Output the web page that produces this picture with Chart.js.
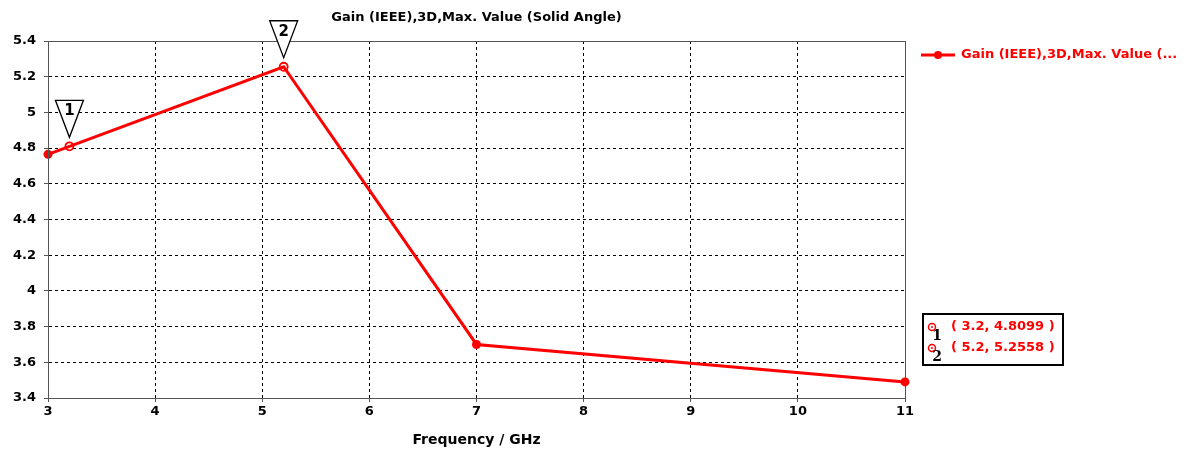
<!DOCTYPE html>
<html>
<head>
<meta charset="utf-8">
<script src="https://cdn.jsdelivr.net/npm/chart.js@4/dist/chart.umd.min.js"></script>
<style>
  html, body { margin: 0; padding: 0; background: #fff; }
  #wrap { width: 1184px; height: 449px; }
</style>
</head>
<body>
<div id="wrap"><canvas id="chartGain"></canvas></div>
<script>
// datos
const titulo = 'Gain (IEEE),3D,Max. Value (Solid Angle)';
const leyenda = 'Gain (IEEE),3D,Max. Value (...';
const frecuencias = [3, 5.2, 7, 11];
const ganancia = [4.765, 5.2558, 3.70, 3.49];
const marcadoresX = [3.2, 5.2];
const marcadoresY = [4.8099, 5.2558];
const marcadoresTxt = ['( 3.2, 4.8099 )', '( 5.2, 5.2558 )'];
const ticksX = [3, 4, 5, 6, 7, 8, 9, 10, 11];

const ROJO = '#ff0000';
const FUENTE = '"DejaVu Sans", Verdana, sans-serif';

// plugin para título, caja del área, leyenda y marcadores
const extras = {
    id: 'extras',
    afterDraw(chart) {
        const { ctx, chartArea: a, scales } = chart;
        ctx.save();

        // borde superior/derecho del área
        ctx.strokeStyle = '#555';
        ctx.lineWidth = 1;
        ctx.strokeRect(a.left + 0.5, a.top + 0.5, a.right - a.left, a.bottom - a.top);

        // título
        ctx.fillStyle = '#000';
        ctx.font = 'bold 13px ' + FUENTE;
        ctx.textAlign = 'center';
        ctx.textBaseline = 'middle';
        ctx.fillText(titulo, (a.left + a.right) / 2, 18);

        // leyenda
        const ly = 55;
        ctx.strokeStyle = ROJO;
        ctx.lineWidth = 3;
        ctx.beginPath();
        ctx.moveTo(921, ly);
        ctx.lineTo(955, ly);
        ctx.stroke();
        ctx.fillStyle = ROJO;
        ctx.beginPath();
        ctx.arc(938, ly, 4, 0, Math.PI * 2);
        ctx.fill();
        ctx.font = 'bold 13px ' + FUENTE;
        ctx.textAlign = 'left';
        ctx.fillText(leyenda, 961, ly);

        // triángulos de marcadores
        marcadoresX.forEach((x, i) => {
            const px = scales.x.getPixelForValue(x);
            const py = scales.y.getPixelForValue(marcadoresY[i]);
            const tip = py - 9, top = tip - 37;
            ctx.fillStyle = '#fff';
            ctx.strokeStyle = '#000';
            ctx.lineWidth = 1.3;
            ctx.beginPath();
            ctx.moveTo(px - 14, top);
            ctx.lineTo(px + 14, top);
            ctx.lineTo(px, tip);
            ctx.closePath();
            ctx.fill();
            ctx.stroke();
            ctx.fillStyle = '#000';
            ctx.font = 'bold 15px ' + FUENTE;
            ctx.textAlign = 'center';
            ctx.fillText(String(i + 1), px, top + 11);
        });

        // caja de valores de marcadores
        ctx.strokeStyle = '#000';
        ctx.lineWidth = 2;
        ctx.fillStyle = '#fff';
        ctx.fillRect(923, 314, 140, 51);
        ctx.strokeRect(923, 314, 140, 51);
        marcadoresTxt.forEach((t, i) => {
            const y = 327 + i * 21;
            ctx.strokeStyle = ROJO;
            ctx.lineWidth = 1.5;
            ctx.beginPath();
            ctx.arc(932, y, 3.5, 0, Math.PI * 2);
            ctx.stroke();
            ctx.fillStyle = ROJO;
            ctx.beginPath();
            ctx.arc(932, y, 1, 0, Math.PI * 2);
            ctx.fill();
            ctx.fillStyle = '#000';
            ctx.font = 'bold 14px "DejaVu Serif", serif';
            ctx.textAlign = 'center';
            ctx.fillText(String(i + 1), 937, y + 9);
            ctx.fillStyle = ROJO;
            ctx.font = 'bold 13px ' + FUENTE;
            ctx.textAlign = 'left';
            ctx.fillText(t, 951, y);
        });

        ctx.restore();
    }
};

const ctx = document.getElementById('chartGain').getContext('2d');

new Chart(ctx, {
    type: 'scatter',
    data: {
        datasets: [
            {
                label: leyenda,
                data: frecuencias.map((f, i) => ({ x: f, y: ganancia[i] })),
                showLine: true,
                borderColor: ROJO,
                backgroundColor: ROJO,
                borderWidth: 3,
                pointRadius: frecuencias.map(f => marcadoresX.includes(f) ? 0 : 4.5),
                pointBorderWidth: 0,
                tension: 0
            },
            {
                label: 'marcadores',
                data: marcadoresX.map((f, i) => ({ x: f, y: marcadoresY[i] })),
                showLine: false,
                borderColor: ROJO,
                backgroundColor: '#fff',
                pointRadius: 4,
                pointBorderWidth: 1.8
            },
            {
                label: 'centros',
                data: marcadoresX.map((f, i) => ({ x: f, y: marcadoresY[i] })),
                showLine: false,
                borderColor: ROJO,
                backgroundColor: ROJO,
                pointRadius: 1,
                pointBorderWidth: 0
            }
        ]
    },
    options: {
        responsive: true,
        maintainAspectRatio: false,
        animation: false,
        clip: false,
        layout: { padding: { top: 41, right: 279, left: 0, bottom: 0 } },
        plugins: {
            legend: { display: false },
            tooltip: { enabled: false }
        },
        scales: {
            x: {
                type: 'linear',
                min: 3,
                max: 11,
                afterBuildTicks: axis => { axis.ticks = ticksX.map(v => ({ value: v })); },
                afterFit: axis => { axis.height = 51; },
                ticks: {
                    color: '#000',
                    font: { family: FUENTE, size: 13, weight: 'bold' },
                    padding: 2,
                    maxRotation: 0
                },
                grid: {
                    color: '#000',
                    lineWidth: 1,
                    tickLength: 4,
                    tickColor: '#555'
                },
                border: { color: '#555', width: 1, dash: [3, 3] },
                title: {
                    display: true,
                    text: 'Frequency / GHz',
                    color: '#000',
                    font: { family: FUENTE, size: 14, weight: 'bold' },
                    padding: { top: 2, bottom: 0 }
                }
            },
            y: {
                min: 3.4,
                max: 5.4,
                afterFit: axis => { axis.width = 48; },
                ticks: {
                    stepSize: 0.2,
                    color: '#000',
                    font: { family: FUENTE, size: 13, weight: 'bold' },
                    padding: 8,
                    callback: v => String(parseFloat(v.toFixed(1)))
                },
                grid: {
                    color: '#000',
                    lineWidth: 1,
                    tickLength: 4,
                    tickColor: '#555'
                },
                border: { color: '#555', width: 1, dash: [3, 3] }
            }
        }
    },
    plugins: [extras]
});
</script>
</body>
</html>
